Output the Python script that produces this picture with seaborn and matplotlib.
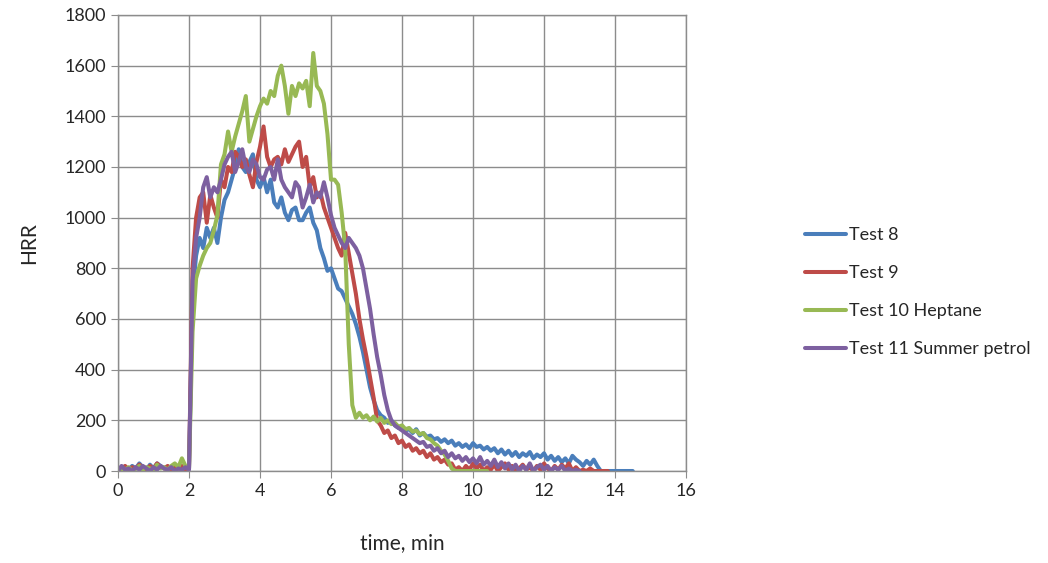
import numpy as np
import pandas as pd
import seaborn as sns
import matplotlib.pyplot as plt

sns.set_style('white')
plt.rcParams['font.family'] = ['Lato', 'DejaVu Sans']

# HRR readings, one value every 0.1 min starting at t = 0
test8 = [0, 15, 10, 5, 20, 10, 30, 15, 5, 25, 10, 30, 20, 10, 15, 5, 20, 10, 15, 5, 10,
         700, 850, 920, 880, 960, 920, 960, 900, 1000, 1070,
         1100, 1150, 1200, 1270, 1200, 1180, 1220, 1250, 1150, 1120,
         1160, 1100, 1150, 1060, 1040, 1080, 1020, 990, 1030, 1040,
         990, 990, 1020, 1040, 980, 950, 880, 840, 790, 800,
         760, 720, 710, 680, 650, 620, 580, 530, 470, 400,
         330, 280, 240, 220, 210, 190, 200, 180, 170, 175,
         160, 165, 150, 165, 140, 150, 135, 140, 125, 130,
         115, 125, 110, 120, 100, 110, 95, 105, 90, 110,
         95, 100, 85, 95, 80, 90, 70, 85, 65, 80,
         60, 75, 55, 70, 60, 75, 50, 65, 55, 70,
         45, 60, 40, 55, 35, 50, 30, 60, 45, 35,
         20, 40, 25, 45, 20, 0, 0, 0, 0, 0,
         0, 0, 0, 0, 0]

test9 = [0, 10, 20, 5, 15, 10, 25, 15, 5, 20, 10, 30, 15, 10, 20, 5, 15, 10, 20, 5, 10,
         800, 1000, 1080, 1100, 980, 1090, 1040, 1000, 1150, 1120,
         1200, 1180, 1260, 1240, 1200, 1230, 1170, 1120, 1220, 1280,
         1360, 1240, 1200, 1230, 1240, 1210, 1270, 1220, 1250, 1280,
         1300, 1200, 1240, 1120, 1160, 1080, 1100, 1040, 1000, 960,
         920, 880, 850, 940, 860, 780, 700, 600, 520, 450,
         370, 290, 200, 180, 150, 160, 130, 140, 110, 120,
         95, 105, 80, 90, 70, 80, 55, 70, 45, 55,
         35, 45, 25, 30, 5, 15, 0, 20, 5, 30,
         10, 25, 0, 15, 5, 25, 0, 15, 30, 5,
         20, 0, 10, 25, 5, 15, 0, 20, 5, 30,
         10, 0, 20, 5, 25, 10, 30, 0, 15, 0,
         5, 0, 10, 0, 0, 0, 0, 0]

test10 = [0, 10, 5, 15, 0, 10, 20, 5, 15, 10, 5, 25, 10, 15, 5, 20, 30, 15, 50, 20, 10,
          550, 760, 810, 850, 880, 900, 950, 1010, 1210, 1250,
          1340, 1260, 1320, 1370, 1420, 1480, 1300, 1350, 1400, 1440,
          1470, 1450, 1500, 1480, 1560, 1600, 1520, 1410, 1520, 1480,
          1530, 1510, 1540, 1440, 1650, 1520, 1500, 1450, 1330, 1150,
          1150, 1130, 1020, 880, 500, 260, 210, 230, 210, 220,
          200, 215, 195, 210, 190, 200, 185, 190, 175, 180,
          165, 170, 155, 160, 145, 150, 130, 125, 110, 100,
          80, 65, 40, 10, 0, 0, 0, 0, 0, 0,
          0, 0, 0, 0]

test11 = [0, 20, 5, 10, 0, 15, 5, 20, 10, 0, 15, 5, 20, 10, 5, 15, 0, 10, 5, 15, 5,
          750, 920, 1000, 1120, 1160, 1080, 1120, 1100, 1150, 1210,
          1240, 1260, 1180, 1220, 1270, 1200, 1180, 1230, 1210, 1160,
          1150, 1190, 1200, 1150, 1230, 1150, 1120, 1100, 1080, 1140,
          1120, 1040, 1080, 1130, 1060, 1100, 1080, 1140, 1080, 1010,
          960, 930, 900, 880, 920, 900, 880, 850, 800, 720,
          640, 540, 450, 380, 300, 240, 200, 180, 170, 160,
          150, 140, 130, 120, 110, 115, 95, 100, 80, 90,
          70, 80, 55, 70, 50, 60, 40, 55, 35, 50,
          30, 55, 25, 40, 20, 45, 15, 35, 10, 30,
          5, 25, 0, 20, 5, 30, 0, 15, 25, 5,
          20, 0, 15, 5, 20, 0, 10, 0, 5, 0]

names = ['Test 8', 'Test 9', 'Test 10 Heptane', 'Test 11 Summer petrol']
series = [test8, test9, test10, test11]
colors = ['#4A7EBB', '#BE4B48', '#98B954', '#7D60A0']

frames = []
for name, vals in zip(names, series):
    t = np.round(np.arange(len(vals)) * 0.1, 1)
    frames.append(pd.DataFrame({'time': t, 'HRR': vals, 'test': name}))
df = pd.concat(frames, ignore_index=True)

fig = plt.figure(figsize=(10.48, 5.63), dpi=100)
ax = fig.add_axes([0.1126, 0.1634, 0.542, 0.81])

sns.lineplot(data=df, x='time', y='HRR', hue='test', hue_order=names,
             palette=colors, linewidth=2.9, ax=ax, sort=False, estimator=None)

ax.set_xlim(0, 16)
ax.set_ylim(0, 1800)
ax.set_xticks(range(0, 17, 2))
ax.set_yticks(range(0, 1801, 200))
ax.grid(True, color='#8c8c8c', linewidth=1.0)
ax.set_axisbelow(True)
for s in ax.spines.values():
    s.set_color('#8c8c8c')
    s.set_linewidth(1.0)
ax.tick_params(axis='both', labelsize=13, length=5, color='#8c8c8c',
               direction='out', left=True, bottom=True)
ax.set_xlabel('time, min', fontsize=15, labelpad=25)
ax.set_ylabel('HRR', fontsize=15, labelpad=18)

ax.legend(loc='center left', bbox_to_anchor=(1.18, 0.392), frameon=False,
          fontsize=13, handlelength=2.3, handletextpad=0.15, labelspacing=1.22)

fig.savefig('out.png', dpi=100)
